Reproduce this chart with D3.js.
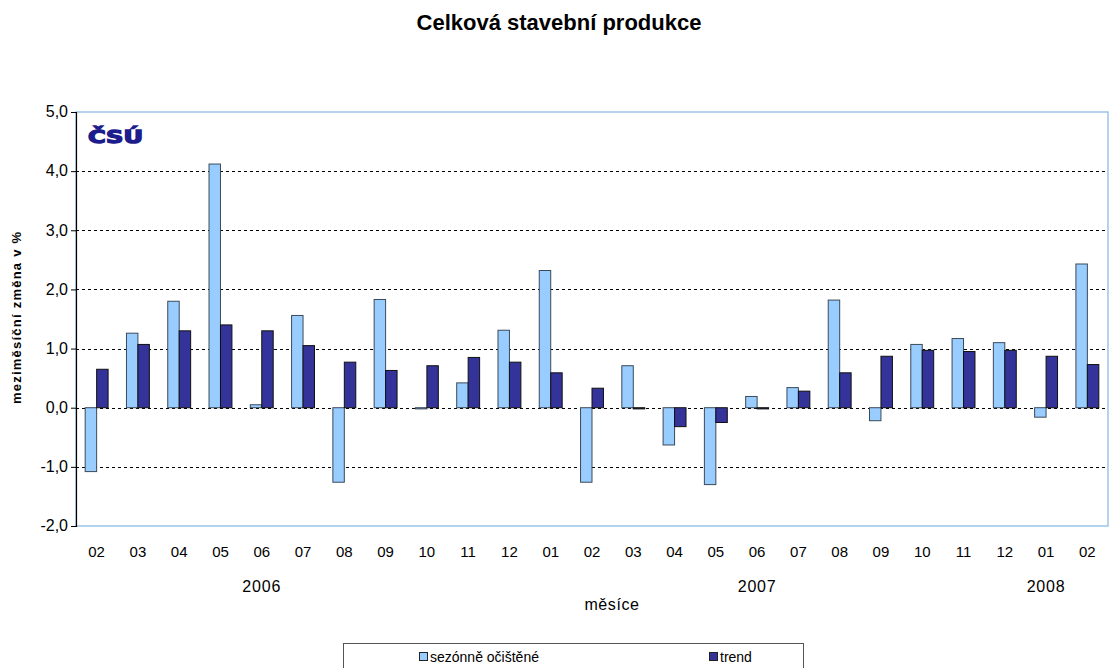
<!DOCTYPE html>
<html>
<head>
<meta charset="utf-8">
<script src="https://cdn.jsdelivr.net/npm/d3@7"></script>
<style>
  body { margin: 0; background: #fff; }
  svg { display: block; font-family: "Liberation Sans", Arial, sans-serif; }
</style>
</head>
<body>
<div id="chart"></div>
<script>
// data
var months = ["02","03","04","05","06","07","08","09","10","11","12",
              "01","02","03","04","05","06","07","08","09","10","11","12",
              "01","02"];
var seasonal = [-1.08, 1.26, 1.80, 4.12, 0.05, 1.56, -1.26, 1.83, -0.02, 0.42, 1.31,
                2.32, -1.26, 0.71, -0.63, -1.30, 0.19, 0.34, 1.82, -0.22, 1.07, 1.17, 1.10,
                -0.16, 2.43];
var trend = [0.65, 1.07, 1.30, 1.40, 1.30, 1.05, 0.77, 0.63, 0.71, 0.85, 0.77,
             0.59, 0.33, -0.02, -0.32, -0.25, -0.02, 0.28, 0.59, 0.87, 0.97, 0.95, 0.97,
             0.87, 0.73];
var years = ["2006", "2007", "2008"];
var yearAt = [4, 16, 23];   // category under which the year label sits
var yTicks = [-2, -1, 0, 1, 2, 3, 4, 5];
var seriesNames = ["sezónně očištěné", "trend"];

var svgWidth = 1109, svgHeight = 668;
var margin = { top: 112, right: 1, bottom: 142, left: 76 };
var width = svgWidth - margin.left - margin.right;
var height = svgHeight - margin.top - margin.bottom;

var svg = d3.select("#chart").append("svg")
  .attr("width", svgWidth)
  .attr("height", svgHeight);

svg.append("text")
  .attr("x", 559).attr("y", 30)
  .attr("text-anchor", "middle")
  .attr("font-size", "22px")
  .attr("font-weight", "bold")
  .text("Celková stavební produkce");

var chartGroup = svg.append("g")
  .attr("transform", `translate(${margin.left}, ${margin.top})`);

var x = d3.scaleBand()
  .domain(d3.range(months.length))
  .range([0, width])
  .paddingInner(0.445)
  .paddingOuter(0.2225);

var y = d3.scaleLinear()
  .domain([-2, 5])
  .range([height, 0]);

// plot area border
chartGroup.append("rect")
  .attr("x", 0).attr("y", 0)
  .attr("width", width).attr("height", height)
  .attr("fill", "none")
  .attr("stroke", "#9dc3ea")
  .attr("stroke-width", 1.5);

// dashed gridlines
chartGroup.selectAll(".grid")
  .data(yTicks.filter(d => d > -2 && d < 5))
  .enter()
  .append("line")
  .attr("x1", 0).attr("x2", width - 2)
  .attr("y1", d => Math.round(y(d)) + 0.5)
  .attr("y2", d => Math.round(y(d)) + 0.5)
  .attr("stroke", "#000")
  .attr("stroke-dasharray", "3,3");

// logo
svg.append("text")
  .attr("x", 88).attr("y", 143)
  .attr("font-family", "DejaVu Sans")
  .attr("font-size", "17px")
  .attr("font-weight", "bold")
  .attr("fill", "#1c1c8c")
  .attr("stroke", "#1c1c8c")
  .attr("stroke-width", 1.3)
  .attr("textLength", 55)
  .attr("lengthAdjust", "spacingAndGlyphs")
  .text("ČSÚ");

var bw = x.bandwidth() / 2;

chartGroup.selectAll(".bar-s")
  .data(seasonal)
  .enter()
  .append("rect")
  .attr("x", (d, i) => x(i))
  .attr("y", d => y(Math.max(0, d)))
  .attr("width", bw)
  .attr("height", d => Math.abs(y(d) - y(0)))
  .attr("fill", "#99ccff")
  .attr("stroke", "#3a4a5a")
  .attr("stroke-width", 1);

chartGroup.selectAll(".bar-t")
  .data(trend)
  .enter()
  .append("rect")
  .attr("x", (d, i) => x(i) + bw)
  .attr("y", d => y(Math.max(0, d)))
  .attr("width", bw)
  .attr("height", d => Math.abs(y(d) - y(0)))
  .attr("fill", "#333399")
  .attr("stroke", "#111")
  .attr("stroke-width", 1);

// y axis
var leftAxis = d3.axisLeft(y)
  .tickValues(yTicks)
  .tickSize(5)
  .tickFormat(d => d.toFixed(1).replace(".", ","));

var yAxisG = chartGroup.append("g").call(leftAxis);
yAxisG.select(".domain").attr("stroke", "#000").attr("stroke-width", 1.2);
yAxisG.selectAll("text")
  .attr("font-size", "16px")
  .attr("font-family", "Liberation Sans, Arial, sans-serif")
  .attr("fill", "#000")
  .attr("x", -8)
  .attr("dy", "0.3em");

// x labels
chartGroup.selectAll(".mlabel")
  .data(months)
  .enter()
  .append("text")
  .attr("x", (d, i) => x(i) + x.bandwidth() / 2)
  .attr("y", height + 31)
  .attr("text-anchor", "middle")
  .attr("font-size", "15px")
  .text(d => d);

chartGroup.selectAll(".ylabel")
  .data(years)
  .enter()
  .append("text")
  .attr("x", (d, i) => x(yearAt[i]) + x.bandwidth() / 2)
  .attr("y", height + 66)
  .attr("text-anchor", "middle")
  .attr("font-size", "16px")
  .attr("letter-spacing", "0.8px")
  .text(d => d);

svg.append("text")
  .attr("x", 612).attr("y", 610)
  .attr("text-anchor", "middle")
  .attr("font-size", "16px")
  .attr("letter-spacing", "0.6px")
  .text("měsíce");

svg.append("text")
  .attr("transform", "rotate(-90)")
  .attr("x", -318).attr("y", 21)
  .attr("text-anchor", "middle")
  .attr("font-size", "13px")
  .attr("font-weight", "bold")
  .attr("textLength", 172)
  .text("meziměsíční změna v %");

// legend
var legend = svg.append("g");
legend.append("rect")
  .attr("x", 343.5).attr("y", 643.5)
  .attr("width", 460).attr("height", 40)
  .attr("fill", "#fff")
  .attr("stroke", "#555");

var legendX = [419, 709];
var legendFill = ["#99ccff", "#333399"];
seriesNames.forEach(function (name, i) {
  legend.append("rect")
    .attr("x", legendX[i] + 0.5).attr("y", 652.5)
    .attr("width", 8).attr("height", 8)
    .attr("fill", legendFill[i])
    .attr("stroke", "#222");
  legend.append("text")
    .attr("x", legendX[i] + 11).attr("y", 662)
    .attr("font-size", "14px")
    .text(name);
});
</script>
</body>
</html>
